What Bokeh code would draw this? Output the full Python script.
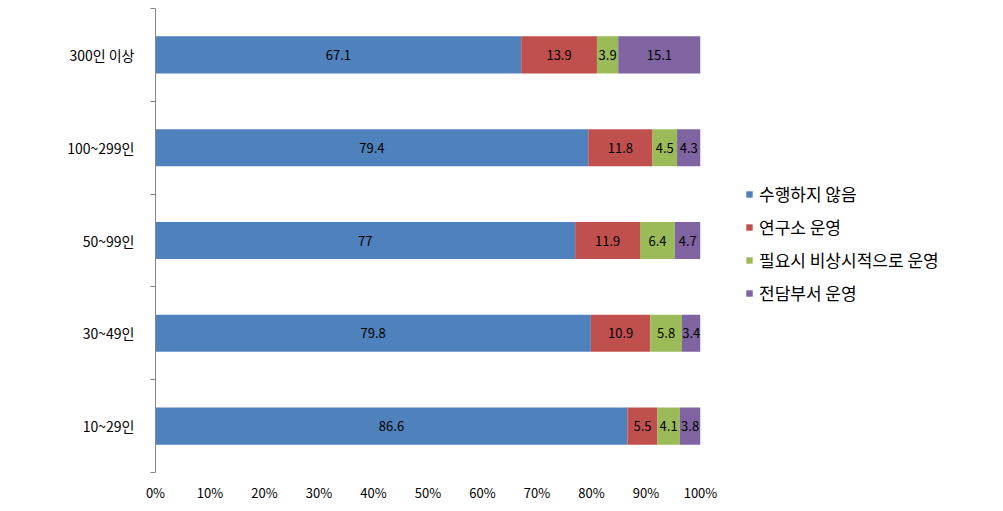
from bokeh.plotting import figure
from bokeh.models import ColumnDataSource, FixedTicker, Legend, LegendItem, Range1d
from bokeh.core.properties import value
from bokeh.embed import file_html
from bokeh.resources import INLINE

categories = ["10~29인", "30~49인", "50~99인", "100~299인", "300인 이상"]
series_names = ["수행하지 않음", "연구소 운영", "필요시 비상시적으로 운영", "전담부서 운영"]
not_done = [86.6, 79.8, 77, 79.4, 67.1]
lab_run = [5.5, 10.9, 11.9, 11.8, 13.9]
occasional = [4.1, 5.8, 6.4, 4.5, 3.9]
dedicated = [3.8, 3.4, 4.7, 4.3, 15.1]
label_texts = [
    ["86.6", "79.8", "77", "79.4", "67.1"],
    ["5.5", "10.9", "11.9", "11.8", "13.9"],
    ["4.1", "5.8", "6.4", "4.5", "3.9"],
    ["3.8", "3.4", "4.7", "4.3", "15.1"],
]
x_ticks = [0, 10, 20, 30, 40, 50, 60, 70, 80, 90, 100]
colors = ["#4F81BD", "#C0504D", "#9BBB59", "#8064A2"]

FONT = "Noto Sans CJK KR"

series = [not_done, lab_run, occasional, dedicated]
n = len(categories)
totals = [sum(s[i] for s in series) for i in range(n)]
ypos = [i + 0.5 for i in range(n)]

p = figure(frame_width=545, frame_height=464, output_backend="svg", toolbar_location=None,
           x_range=Range1d(0, 100), y_range=Range1d(0, n),
           min_border_left=155, min_border_right=280, min_border_top=8, min_border_bottom=31)
p.outline_line_color = None
p.xgrid.visible = False
p.ygrid.visible = False

left = [0.0] * n
renderers = []
for k, s in enumerate(series):
    pct = [s[i] / totals[i] * 100 for i in range(n)]
    right = [left[i] + pct[i] for i in range(n)]
    mid = [(left[i] + right[i]) / 2 for i in range(n)]
    src = ColumnDataSource(dict(y=ypos, left=left, right=right, mid=mid, txt=label_texts[k]))
    r = p.hbar(y="y", left="left", right="right", height=0.4, source=src,
               fill_color=colors[k], line_color=None)
    renderers.append(r)
    p.text(x="mid", y="y", text="txt", source=src, text_align="center", text_baseline="middle",
           text_font=value(FONT), text_font_size="13px", text_color="#000000")
    left = right

legend = Legend(items=[LegendItem(label=series_names[k], renderers=[renderers[k]]) for k in range(4)],
                location=(45, 167), orientation="vertical")
legend.label_text_font = FONT
legend.label_text_font_size = "17px"
legend.label_text_color = "#000000"
legend.glyph_width = 8
legend.glyph_height = 8
legend.label_height = 20
legend.spacing = 8
legend.label_standoff = 6
legend.padding = 0
legend.margin = 0
legend.border_line_color = None
legend.background_fill_alpha = 0
p.add_layout(legend, "right")

# y axis
yax = p.yaxis[0]
yax.ticker = FixedTicker(ticks=ypos, minor_ticks=list(range(n + 1)))
yax.major_label_overrides = {ypos[i]: categories[i] for i in range(n)}
yax.major_label_text_font = FONT
yax.major_label_text_font_size = "14px"
yax.major_label_text_color = "#000000"
yax.major_tick_out = 0
yax.major_tick_in = 0
yax.minor_tick_out = 5
yax.minor_tick_in = 0
yax.minor_tick_line_color = "#868686"
yax.axis_line_color = "#868686"
yax.major_label_standoff = 16

# x axis
xax = p.xaxis[0]
xax.ticker = FixedTicker(ticks=x_ticks)
xax.major_label_overrides = {t: f"{t}%" for t in x_ticks}
xax.major_label_text_font = FONT
xax.major_label_text_font_size = "13px"
xax.major_label_text_color = "#000000"
xax.axis_line_color = None
xax.major_tick_line_color = None
xax.minor_tick_line_color = None
xax.major_label_standoff = 4

open("out.html", "w").write(file_html(p, INLINE))
